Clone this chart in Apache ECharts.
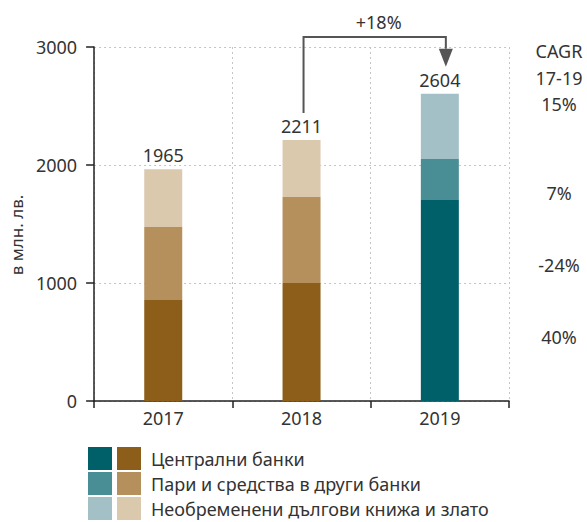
<!DOCTYPE html>
<html lang="bg">
<head>
<meta charset="utf-8">
<script src="https://cdn.jsdelivr.net/npm/echarts@6/dist/echarts.min.js"></script>
<style>
  html, body { margin: 0; padding: 0; background: #fff; }
  #chart { width: 587px; height: 522px; }
</style>
</head>
<body>
<div id="chart" lang="bg"></div>
<script>
// Years on the category axis
const years = ['2017', '2018', '2019'];

// Components, in млн. лв.
const centralBanks = [856, 1000, 1703];
const otherBanks = [619, 729, 348];
const securitiesGold = [490, 482, 553];

// Legend texts
const seriesNames = [
  'Централни банки',
  'Пари и средства в други банки',
  'Необременени дългови книжа и злато'
];

// Right-hand CAGR column
const cagrHeader = ['CAGR', '17-19'];
const cagrValues = ['15%', '7%', '-24%', '40%'];

// Growth note above 2018 -> 2019
const growthLabel = '+18%';

const totals = years.map((_, i) => centralBanks[i] + otherBanks[i] + securitiesGold[i]);

const brown = ['#8c5e19', '#b5905d', '#dbc9ae'];
const teal = ['#00606a', '#4a8e95', '#a3c0c6'];
const FONT = '"Noto Sans", Roboto, sans-serif';
const NUM = 18;
const TXT = '#333';

const components = [centralBanks, otherBanks, securitiesGold];

function makeSeries(colors, suffix, keep) {
  return components.map((arr, k) => ({
    name: seriesNames[k] + suffix,
    type: 'bar',
    stack: 'total',
    barWidth: 38,
    itemStyle: { color: colors[k] },
    data: arr.map((v, i) => (keep(i) ? v : '-')),
    label: k === 2 ? {
      show: true, position: 'top', distance: 5,
      fontFamily: FONT, fontSize: NUM, color: TXT,
      formatter: p => String(totals[p.dataIndex])
    } : { show: false }
  }));
}

const brownSeries = makeSeries(brown, '', i => i < 2);
const tealSeries = makeSeries(teal, ' ', i => i === 2);

const chart = echarts.init(document.getElementById('chart'), null, { renderer: 'svg' });

const legendCommon = {
  orient: 'vertical', top: 447, height: 90, padding: 0,
  itemWidth: 24, itemHeight: 23, itemGap: 2,
  icon: 'rect', selectedMode: false
};

chart.setOption({
  animation: false,
  textStyle: { fontFamily: FONT },
  grid: { left: 93, right: 78, top: 47, bottom: 121, containLabel: false },
  legend: [
    Object.assign({}, legendCommon, {
      left: 88,
      data: tealSeries.map(s => s.name),
      formatter: () => '',
      textStyle: { fontSize: 1 }
    }),
    Object.assign({}, legendCommon, {
      left: 117,
      data: seriesNames,
      textStyle: { fontFamily: FONT, fontSize: 18, color: TXT, padding: [0, 0, 0, 5] }
    })
  ],
  xAxis: {
    type: 'category',
    data: years,
    axisLine: { lineStyle: { color: '#222', width: 1.5 } },
    axisTick: { show: true, length: 7, lineStyle: { color: '#222', width: 1.5 } },
    axisLabel: { fontFamily: FONT, fontSize: NUM, color: TXT, margin: 8 },
    splitLine: { show: true, lineStyle: { color: '#c4c4c4', type: [2, 3], width: 1 } }
  },
  yAxis: {
    type: 'value',
    min: 0, max: 3000, interval: 1000,
    name: 'в млн. лв.',
    nameLocation: 'middle',
    nameGap: 68,
    nameTextStyle: { fontFamily: FONT, fontSize: 17, color: TXT, padding: [0, 22, 0, 0] },
    axisLine: { show: true, lineStyle: { color: '#222', width: 1.5 } },
    axisTick: { show: true, length: 8, lineStyle: { color: '#222', width: 1.5 } },
    axisLabel: { fontFamily: FONT, fontSize: NUM, color: TXT, margin: 17, formatter: v => String(v) },
    splitLine: { show: true, lineStyle: { color: '#c4c4c4', type: [2, 3], width: 1 } }
  },
  series: brownSeries.concat(tealSeries)
});

// Growth arrow from the 2018 total to the 2019 total, plus the CAGR column
function drawAnnotations() {
  const x18 = chart.convertToPixel({ xAxisIndex: 0 }, years[1]) + 2;
  const x19 = chart.convertToPixel({ xAxisIndex: 0 }, years[2]) + 6;
  const yTop18 = chart.convertToPixel({ yAxisIndex: 0 }, totals[1]);
  const yTop19 = chart.convertToPixel({ yAxisIndex: 0 }, totals[2]);
  const yBar = 37;
  const yStart = yTop18 - 27;
  const yTip = yTop19 - 27;
  const headLen = 18;

  const cagrY = [104, 193, 265, 337];
  const textStyle = t => ({ text: t, font: NUM + 'px ' + FONT, fill: TXT, align: 'center', verticalAlign: 'middle' });
  const elements = [
    {
      type: 'polyline',
      shape: { points: [[x18, yStart], [x18, yBar], [x19, yBar], [x19, yTip - headLen]] },
      style: { stroke: '#555', lineWidth: 2, fill: null }
    },
    {
      type: 'polygon',
      shape: { points: [[x19 - 7, yTip - headLen], [x19 + 7, yTip - headLen], [x19, yTip]] },
      style: { fill: '#555' }
    },
    { type: 'text', x: (x18 + x19) / 2 + 4, y: 22, style: textStyle(growthLabel) },
    { type: 'text', x: 559, y: 51, style: textStyle(cagrHeader[0]) },
    { type: 'text', x: 559, y: 78, style: textStyle(cagrHeader[1]) }
  ];
  cagrValues.forEach((t, i) => {
    elements.push({ type: 'text', x: 559, y: cagrY[i], style: textStyle(t) });
  });
  chart.setOption({ graphic: elements });
}
drawAnnotations();
</script>
</body>
</html>
